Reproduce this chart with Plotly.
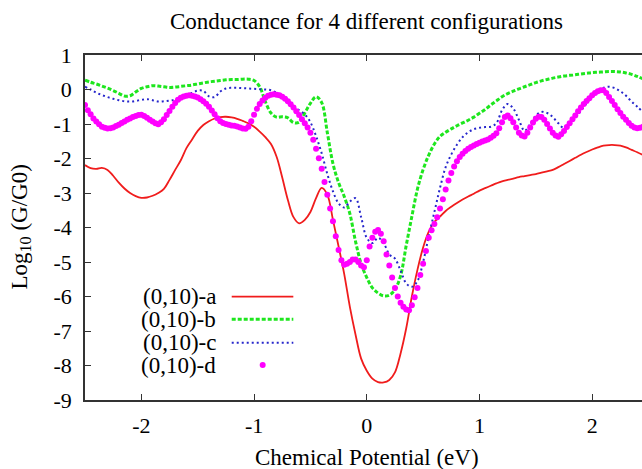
import plotly.graph_objects as go

# chemical potential grids (eV)
energy = [round(-2.5 + 0.05 * i, 2) for i in range(100)]
energy_d = [round(-2.5 + 0.025 * i, 3) for i in range(199)]

# log10(G/G0) for the four configurations
conf_a = [-2.19, -2.28, -2.30, -2.27, -2.33, -2.50, -2.70, -2.87, -3.00, -3.09,
          -3.14, -3.13, -3.08, -3.00, -2.88, -2.62, -2.33, -2.05, -1.70, -1.45,
          -1.20, -1.03, -0.92, -0.84, -0.80, -0.79, -0.81, -0.85, -0.91, -0.98,
          -1.08, -1.22, -1.38, -1.58, -1.95, -2.55, -3.20, -3.70, -3.88, -3.78,
          -3.55, -3.15, -2.85, -3.05, -3.78, -4.55, -5.35, -6.30, -7.10, -7.80,
          -8.15, -8.38, -8.48, -8.49, -8.42, -8.20, -7.65, -6.92, -6.00, -5.22,
          -4.58, -4.12, -3.84, -3.68, -3.52, -3.40, -3.29, -3.19, -3.10, -3.02,
          -2.93, -2.86, -2.79, -2.72, -2.66, -2.62, -2.58, -2.54, -2.51, -2.48,
          -2.45, -2.41, -2.37, -2.33, -2.25, -2.16, -2.07, -1.98, -1.89, -1.81,
          -1.74, -1.68, -1.63, -1.61, -1.61, -1.63, -1.68, -1.75, -1.82, -1.90]

conf_b = [0.27, 0.21, 0.16, 0.10, 0.04, -0.03, -0.11, -0.19, -0.18, -0.07,
          0.03, 0.08, 0.11, 0.10, 0.08, 0.06, 0.07, 0.09, 0.11, 0.13,
          0.16, 0.19, 0.22, 0.24, 0.26, 0.28, 0.29, 0.29, 0.30, 0.30,
          0.26, 0.08, -0.35, -0.68, -0.80, -0.79, -0.82, -0.96, -0.95, -0.68,
          -0.40, -0.21, -0.38, -1.25, -2.15, -2.70, -3.10, -3.60, -4.40, -5.05,
          -5.45, -5.75, -5.90, -5.98, -5.96, -5.80, -5.40, -4.52, -3.68, -2.88,
          -2.32, -1.90, -1.58, -1.36, -1.24, -1.14, -1.05, -0.97, -0.89, -0.80,
          -0.69, -0.58, -0.45, -0.33, -0.21, -0.12, -0.05, 0.02, 0.08, 0.14,
          0.20, 0.25, 0.29, 0.33, 0.36, 0.39, 0.41, 0.43, 0.45, 0.47,
          0.49, 0.50, 0.51, 0.52, 0.52, 0.51, 0.48, 0.44, 0.38, 0.31]

conf_c = [0.08, 0.00, -0.09, -0.16, -0.22, -0.27, -0.31, -0.34, -0.35, -0.33,
          -0.30, -0.28, -0.31, -0.35, -0.34, -0.32, -0.30, -0.24, -0.16, -0.10,
          -0.03, -0.04, -0.20, -0.22, -0.06, 0.03, 0.05, 0.05, 0.04, 0.03,
          0.02, 0.01, 0.00, -0.02, -0.10, -0.25, -0.38, -0.47, -0.60, -0.72,
          -0.95, -1.35, -1.85, -2.45, -2.95, -3.30, -3.42, -3.25, -3.15, -3.70,
          -4.30, -4.45, -4.30, -4.45, -4.78, -4.90, -5.25, -5.62, -5.72, -5.55,
          -5.00, -4.25, -3.55, -2.85, -2.25, -1.88, -1.60, -1.38, -1.24, -1.15,
          -1.11, -1.09, -1.08, -0.98, -0.60, -0.42, -0.55, -0.88, -1.20, -1.00,
          -0.76, -0.65, -0.68, -0.80, -0.98, -1.12, -1.00, -0.82, -0.62, -0.40,
          -0.20, -0.04, 0.05, 0.08, 0.04, -0.05, -0.18, -0.35, -0.50, -0.65]

conf_d = [-0.45, -0.60, -0.72, -0.84, -0.93, -1.01, -1.08, -1.11, -1.13, -1.12,
          -1.10, -1.06, -1.02, -0.97, -0.93, -0.88, -0.84, -0.80, -0.77, -0.74,
          -0.73, -0.77, -0.82, -0.88, -0.93, -0.98, -1.01, -0.95, -0.86, -0.74,
          -0.62, -0.50, -0.39, -0.30, -0.24, -0.20, -0.18, -0.17, -0.18, -0.20,
          -0.23, -0.28, -0.34, -0.41, -0.50, -0.61, -0.72, -0.83, -0.92, -0.97,
          -1.00, -1.02, -1.04, -1.05, -1.07, -1.10, -1.13, -1.14, -1.08, -0.92,
          -0.73, -0.56, -0.42, -0.32, -0.24, -0.18, -0.15, -0.14, -0.15, -0.17,
          -0.21, -0.27, -0.34, -0.43, -0.52, -0.63, -0.74, -0.86, -0.98, -1.10,
          -1.25, -1.46, -1.72, -1.99, -2.30, -2.68, -3.05, -3.45, -3.82, -4.25,
          -4.65, -4.95, -5.08, -5.05, -5.00, -4.93, -4.93, -5.00, -5.10, -5.15,
          -4.95, -4.55, -4.30, -4.12, -4.07, -4.18, -4.40, -4.78, -5.10, -5.45,
          -5.75, -6.00, -6.18, -6.30, -6.38, -6.40, -6.25, -6.02, -5.75, -5.38,
          -5.05, -4.68, -4.30, -4.08, -3.90, -3.70, -3.45, -3.18, -2.90, -2.64,
          -2.42, -2.23, -2.08, -1.96, -1.86, -1.78, -1.72, -1.67, -1.62, -1.58,
          -1.54, -1.51, -1.48, -1.45, -1.40, -1.34, -1.27, -1.12, -0.95, -0.80,
          -0.75, -0.83, -0.95, -1.10, -1.25, -1.33, -1.36, -1.25, -1.10, -0.96,
          -0.85, -0.79, -0.80, -0.88, -1.00, -1.13, -1.25, -1.33, -1.37, -1.30,
          -1.20, -1.09, -0.98, -0.86, -0.75, -0.63, -0.52, -0.42, -0.33, -0.25,
          -0.17, -0.10, -0.05, -0.02, -0.02, -0.10, -0.22, -0.33, -0.45, -0.57,
          -0.68, -0.79, -0.88, -0.97, -1.05, -1.10, -1.12, -1.11, -1.08]

labels = ["(0,10)-a", "(0,10)-b", "(0,10)-c", "(0,10)-d"]
x_ticks = [-2, -1, 0, 1, 2]
x_tick_text = ["-2", "-1", "0", "1", "2"]
y_ticks = [1, 0, -1, -2, -3, -4, -5, -6, -7, -8, -9]
y_tick_text = ["1", "0", "-1", "-2", "-3", "-4", "-5", "-6", "-7", "-8", "-9"]

RED = "#f01c1c"
GREEN = "#1ee61e"
BLUE = "#2626cc"
MAGENTA = "#ff00ff"
FONT = "Liberation Serif"

fig = go.Figure()

fig.add_trace(go.Scatter(x=energy, y=conf_a, mode="lines", name=labels[0],
                         line=dict(color=RED, width=1.8, shape="spline")))
fig.add_trace(go.Scatter(x=energy, y=conf_b, mode="lines", name=labels[1],
                         line=dict(color=GREEN, width=3, dash="4px,2px", shape="spline")))
fig.add_trace(go.Scatter(x=energy, y=conf_c, mode="lines", name=labels[2],
                         line=dict(color=BLUE, width=2, dash="2px,3px", shape="spline")))
fig.add_trace(go.Scatter(x=energy_d, y=conf_d, mode="markers", name=labels[3],
                         marker=dict(color=MAGENTA, size=6)))

axis_style = dict(
    showgrid=False, zeroline=False,
    showline=True, linecolor="#333333", linewidth=1.5,
    ticks="inside", ticklen=6, tickcolor="#333333", tickwidth=1.2,
    tickfont=dict(family=FONT, size=22, color="black"),
)

fig.update_xaxes(range=[-2.5, 2.442], tickvals=x_ticks, ticktext=x_tick_text,
                 mirror="ticks", ticklabelstandoff=5, **axis_style)
fig.update_yaxes(range=[-9, 1], tickvals=y_ticks, ticktext=y_tick_text,
                 mirror=False, ticklabelstandoff=7, **axis_style)

annotations = [
    dict(text="Conductance for 4 different configurations", xref="x", x=0,
         yref="paper", y=1 + 34 / 345, xanchor="center", yanchor="middle",
         showarrow=False, font=dict(family=FONT, size=23, color="black")),
    dict(text="Chemical Potential (eV)", xref="x", x=0,
         yref="paper", y=-57 / 345, xanchor="center", yanchor="middle",
         showarrow=False, font=dict(family=FONT, size=23, color="black")),
    dict(text="Log<sub>10</sub> (G/G0)", xref="paper", x=-65 / 557,
         yref="paper", y=0.5, xanchor="center", yanchor="middle", textangle=-90,
         showarrow=False, font=dict(family=FONT, size=23, color="black")),
]

# legend drawn gnuplot-style: text right-aligned, sample to the right
legend_rows = [0.2994, 0.2339, 0.1661, 0.1014]
shapes = []
for i, (lab, row) in enumerate(zip(labels, legend_rows)):
    annotations.append(dict(text=lab, xref="paper", x=0.2388, yref="paper", y=row,
                            xanchor="right", yanchor="middle", showarrow=False,
                            font=dict(family=FONT, size=23, color="black")))
    if i == 0:
        shapes.append(dict(type="line", xref="paper", yref="paper", x0=0.2634, x1=0.374,
                           y0=row, y1=row, line=dict(color=RED, width=1.8)))
    elif i == 1:
        shapes.append(dict(type="line", xref="paper", yref="paper", x0=0.2634, x1=0.374,
                           y0=row, y1=row, line=dict(color=GREEN, width=3, dash="4px,2px")))
    elif i == 2:
        shapes.append(dict(type="line", xref="paper", yref="paper", x0=0.2634, x1=0.374,
                           y0=row, y1=row, line=dict(color=BLUE, width=2, dash="2px,3px")))
    else:
        shapes.append(dict(type="circle", xref="paper", yref="paper",
                           xsizemode="pixel", ysizemode="pixel",
                           xanchor=0.319, yanchor=row, x0=-3, x1=3, y0=-3, y1=3,
                           fillcolor=MAGENTA, line=dict(width=0)))

fig.update_layout(
    width=642, height=469,
    margin=dict(l=85, r=0, t=55, b=69),
    plot_bgcolor="white", paper_bgcolor="white",
    showlegend=False,
    annotations=annotations,
    shapes=shapes,
)

# page body has a default 8px margin; drop it so the figure fills the window
fig.write_html("out.html", config={"displayModeBar": False},
               post_script="document.body.style.margin='0';")
